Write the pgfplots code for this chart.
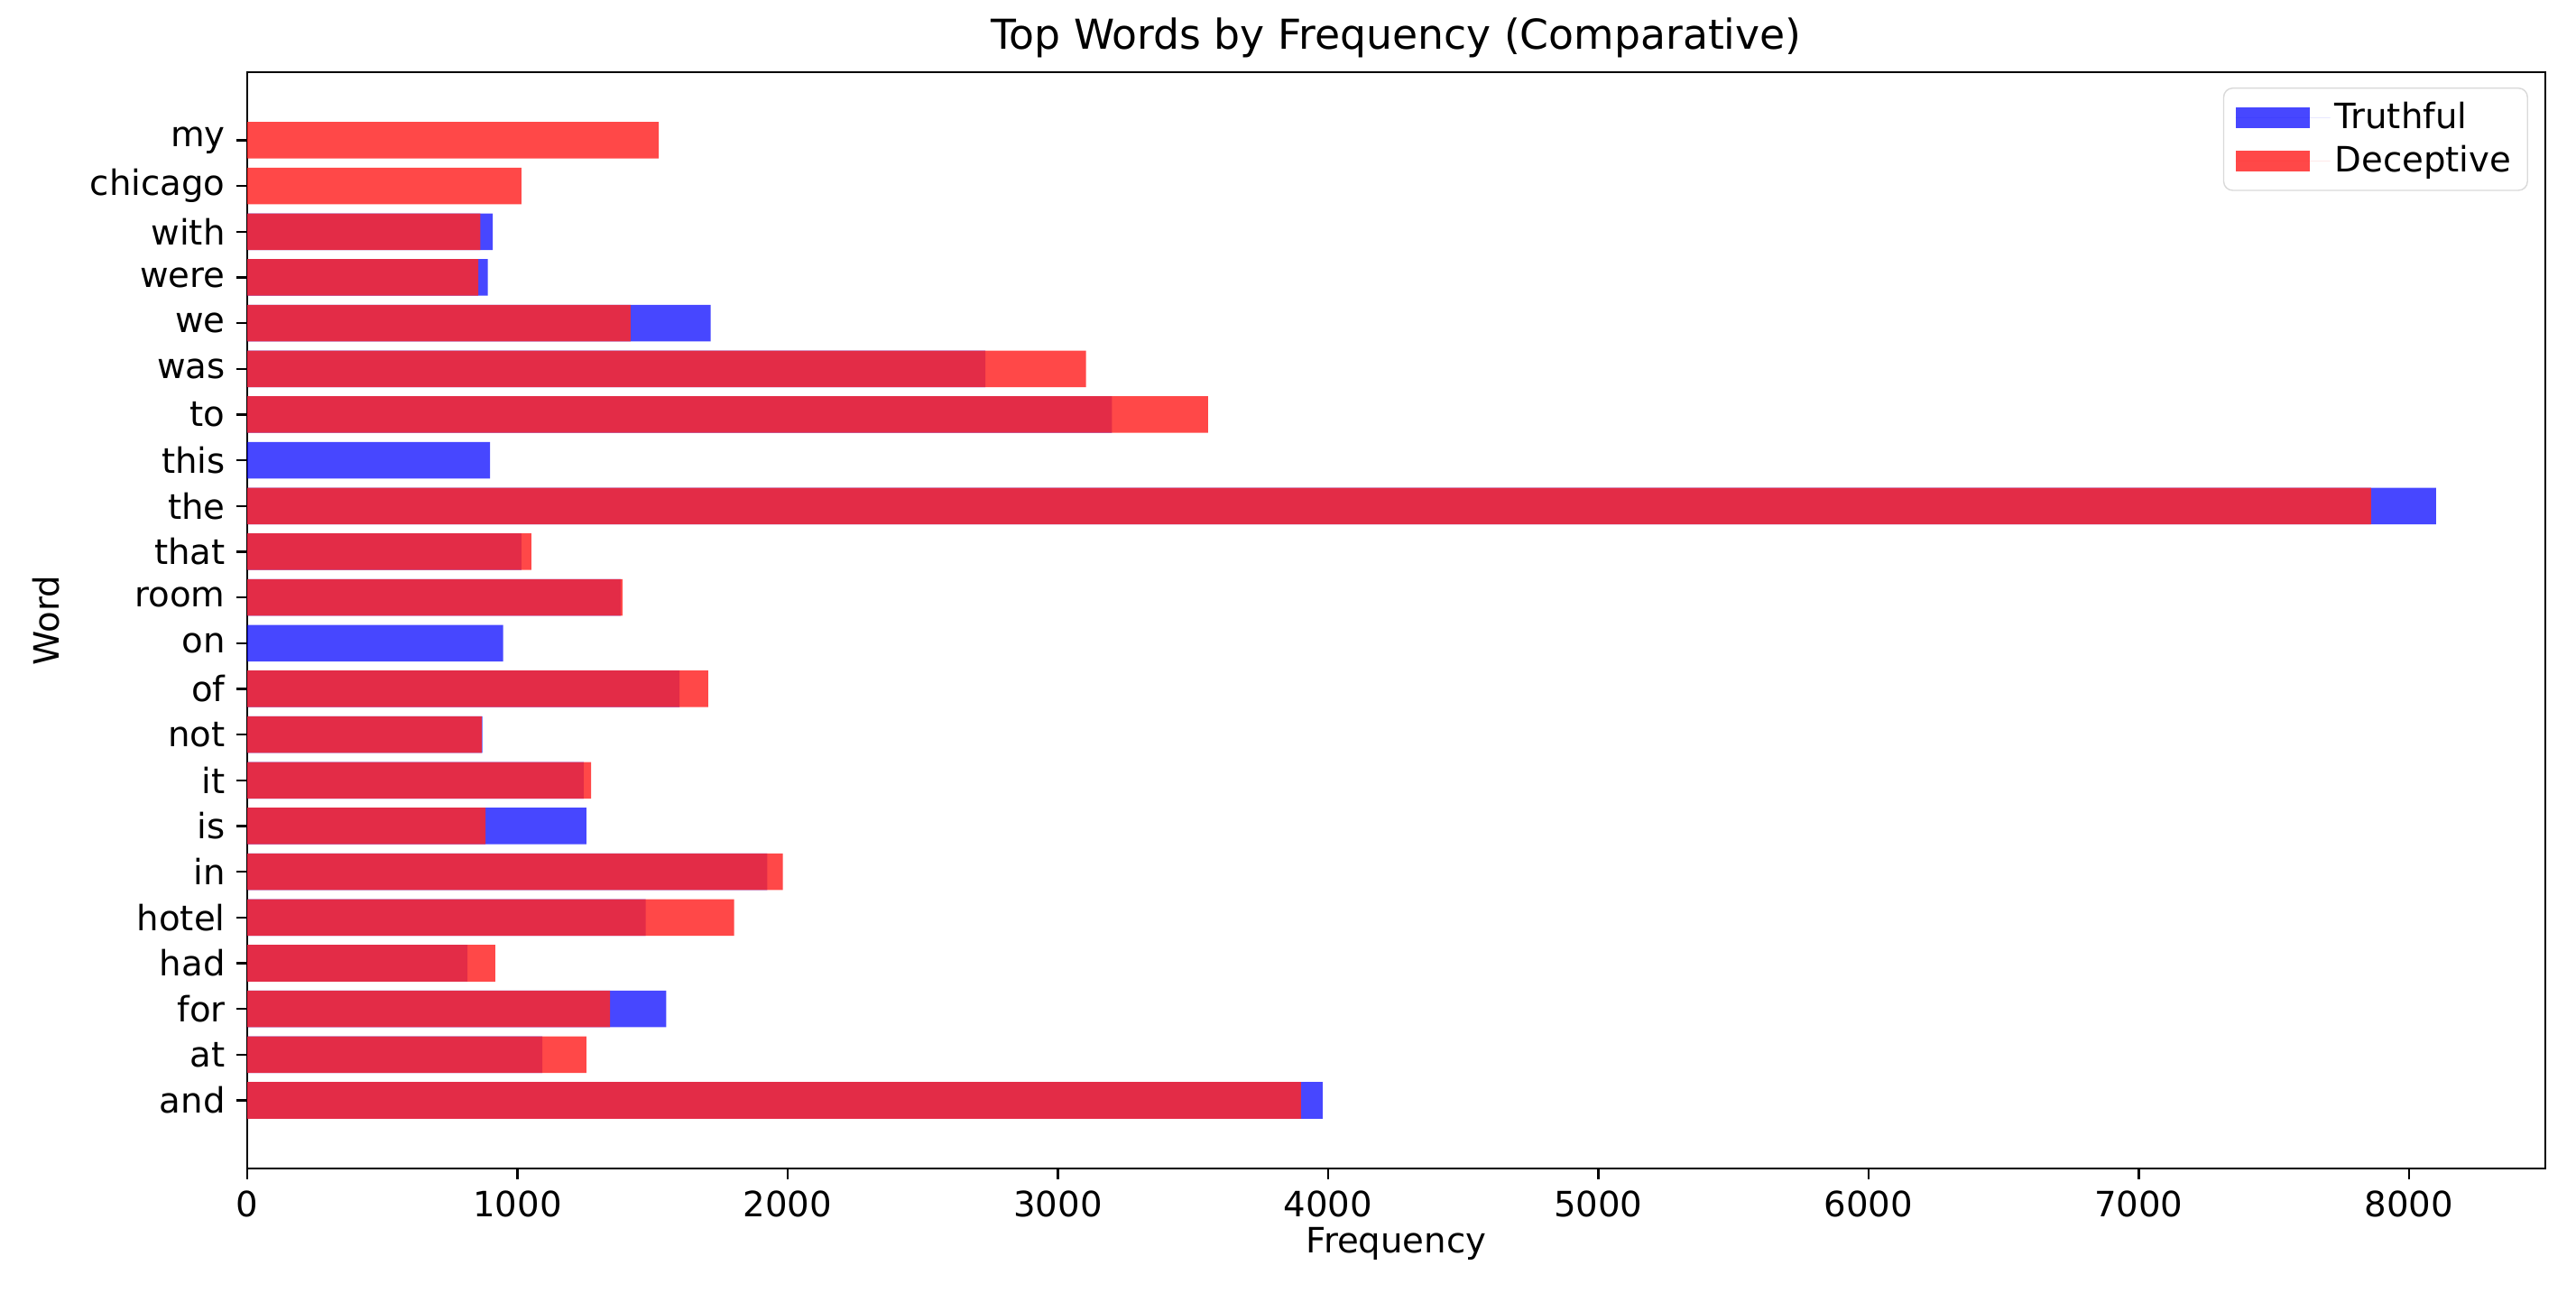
\documentclass[border=0pt]{standalone}
\usepackage{pgfplots}
\pgfplotsset{compat=1.18}
\usepackage{fontspec}
\setmainfont{DejaVu Sans}
\definecolor{tblue}{RGB}{0,0,255}
\definecolor{dred}{RGB}{255,40,40}
\begin{document}
\begin{tikzpicture}
\path[use as bounding box] (0,0) rectangle (285.5mm,143.3mm);
\begin{axis}[
  scale only axis, width=254.7mm, height=121.5mm,
  at={(27.4mm,13.8mm)}, anchor=south west,
  xbar, bar width=0.8, bar shift=0pt,
  xmin=0, xmax=8505, ymin=-1.49, ymax=22.49,
  ytick={0,...,21},
  yticklabels={and,at,for,had,hotel,in,is,it,not,of,on,room,that,the,this,to,was,we,were,with,chicago,my},
  xtick={0,1000,...,8000},
  scaled x ticks=false,
  /pgf/number format/1000 sep={},
  /pgf/number format/assume math mode=true,
  tick pos=left, tick align=outside,
  major tick length=1.2mm,
  axis line style={line width=0.7pt},
  every tick/.style={line width=0.7pt, black},
  tick label style={font=\fontsize{11}{13}\selectfont},
  label style={font=\fontsize{11}{13}\selectfont},
  title={Top Words by Frequency (Comparative)},
  every axis title shift=0pt,
  title style={font=\fontsize{13}{15}\selectfont, at={(axis description cs:0.5,1.0313)}, anchor=center, yshift=0pt},
  xlabel={Frequency},
  ylabel={Word},
  xlabel style={at={(axis description cs:0.5,-0.0683)}, anchor=center},
  ylabel style={at={(axis description cs:-0.0876,0.5)}, anchor=center},
  legend cell align=left,
  legend image code/.code={\fill[#1, sharp corners] (0mm,-1.15mm) rectangle (8.2mm,1.15mm); \path (0mm,0mm) -- (10.5mm,0mm);},
  legend style={at={(rel axis cs:0.9925,0.986)}, anchor=north east,
    draw=black!15, rounded corners=1mm, font=\fontsize{11}{13}\selectfont,
    row sep=0.4mm, inner xsep=1.3mm, inner ysep=1.0mm, nodes={inner sep=0.5mm}},
]
\addplot[fill=tblue, fill opacity=0.72, draw=none] coordinates {
(3980,0) (1092,1) (1551,2) (815,3) (1475,4) (1925,5) (1255,6) (1245,7) (870,8) (1600,9)
(947,10) (1382,11) (1015,12) (8100,13) (899,14) (3200,15) (2732,16) (1715,17) (890,18) (909,19)
};
\addlegendentry{Truthful}
\addplot[fill=dred, fill opacity=0.85, draw=none] coordinates {
(3900,0) (1255,1) (1343,2) (918,3) (1802,4) (1982,5) (882,6) (1273,7) (868,8) (1706,9)
(1389,11) (1051,12) (7860,13) (3556,15) (3104,16) (1419,17) (855,18) (863,19) (1015,20) (1523,21)
};
\addlegendentry{Deceptive}
\end{axis}
\end{tikzpicture}
\end{document}
